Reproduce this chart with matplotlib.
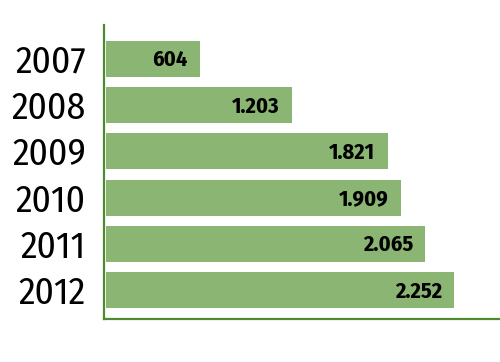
import matplotlib
matplotlib.use("Agg")
import matplotlib.pyplot as plt

years = ["2007", "2008", "2009", "2010", "2011", "2012"]
values = [604, 1203, 1821, 1909, 2065, 2252]
labels = ["604", "1.203", "1.821", "1.909", "2.065", "2.252"]

bar_color = "#8AB573"
axis_color = "#4F8A2F"
narrow = ["Fira Sans Condensed", "DejaVu Sans"]

fig = plt.figure(figsize=(5.0, 3.62), dpi=100)
ax = fig.add_axes([0.208, 0.119, 0.792, 0.812])

pos = list(range(len(years)))
ax.barh(pos, values, height=0.78, color=bar_color, left=0)

for p, v, t in zip(pos, values, labels):
    ax.annotate(t, xy=(v, p), xytext=(-9, -1), textcoords="offset points",
                ha="right", va="center", fontsize=16, fontweight="bold",
                family=narrow, color="black")

ax.set_xlim(-15, 2548)
ax.set_ylim(5.62, -0.73)
ax.set_yticks(pos)
ax.set_yticklabels(years, fontsize=27, family=narrow)
ax.tick_params(axis="y", length=0, pad=13)
ax.set_xticks([])

for s in ["top", "right"]:
    ax.spines[s].set_visible(False)
for s in ["left", "bottom"]:
    ax.spines[s].set_color(axis_color)
    ax.spines[s].set_linewidth(1.6)

fig.savefig("out.png", dpi=100, facecolor="white")
